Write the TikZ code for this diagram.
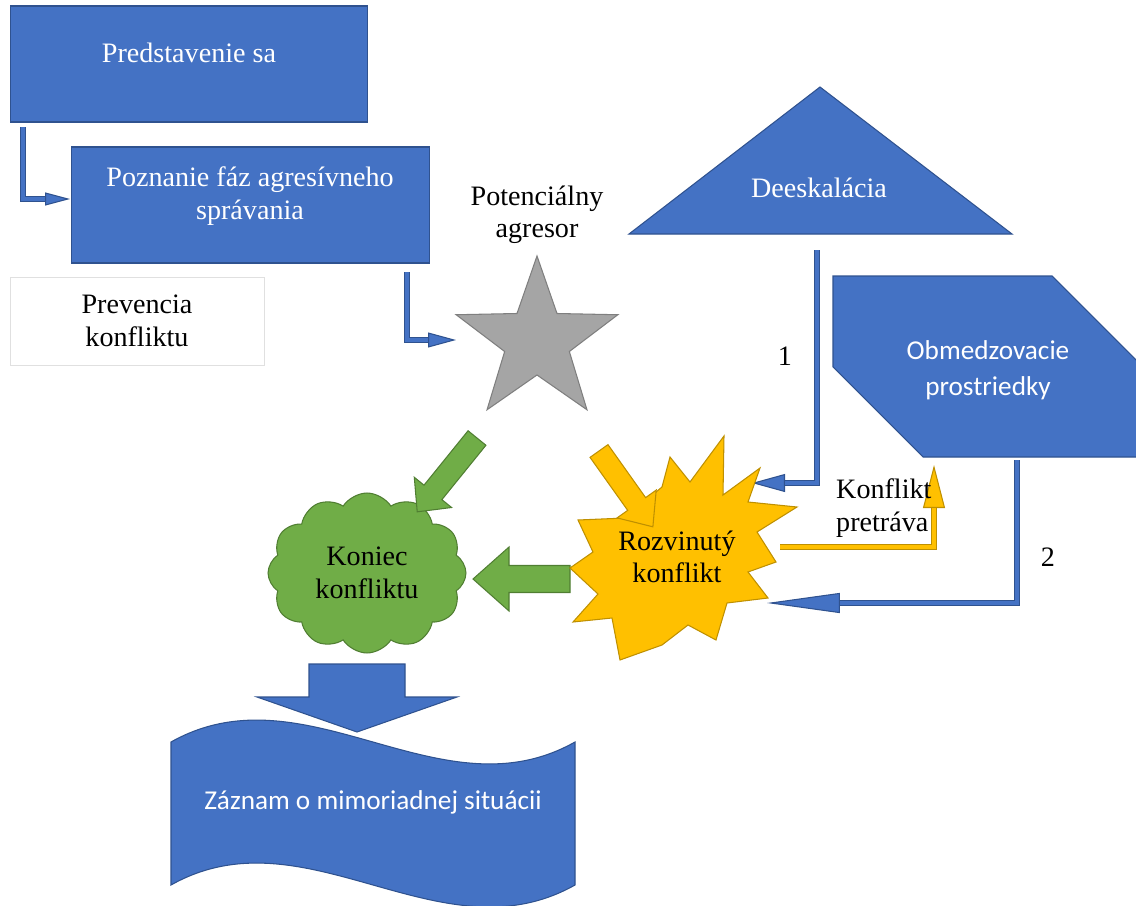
\documentclass[tikz,border=0pt]{standalone}
\usepackage{fontspec}
\setmainfont{Liberation Serif}
\newfontfamily\calibri{Carlito}
\usetikzlibrary{shapes.geometric,shapes.symbols,arrows.meta,calc}
\definecolor{bblue}{HTML}{4472C4}
\definecolor{bdark}{HTML}{2F528F}
\definecolor{ggreen}{HTML}{70AD47}
\definecolor{gdark}{HTML}{507E32}
\definecolor{yyel}{HTML}{FFC000}
\definecolor{ydark}{HTML}{BF9000}
\definecolor{sgray}{HTML}{A5A5A5}
\definecolor{sdark}{HTML}{7F7F7F}
\definecolor{lgray}{HTML}{E0E0E0}
% block arrow: style, x, y, angle, length, shaft half width, head half width, head length
\newcommand\blockarrow[8]{%
  \begin{scope}[shift={(#2,#3)},rotate=#4]
    \draw[#1] (0,-#6) -- ({#5-#8},-#6) -- ({#5-#8},-#7) -- (#5,0) -- ({#5-#8},#7) -- ({#5-#8},#6) -- (0,#6) -- cycle;
  \end{scope}}
% elbow connector: dark colour, fill colour, head length, head width, path
\newcommand\elbowarrow[5]{%
  \draw[line width=3.6pt, #1, -{Triangle[length=#3, width=#4, line width=0.6pt, fill=#2]}] #5;
  \draw[line width=2.1pt, #2, shorten >=#3] #5;}
\tikzset{
  wt/.style={text=white, align=center, font=\fontsize{16}{18.5}\selectfont},
  bt/.style={text=black, align=center, font=\fontsize{16}{18.5}\selectfont},
  wc/.style={text=white, align=center, font=\calibri\fontsize{15.5}{20.5}\selectfont},
  bluebox/.style={draw=bdark, fill=bblue, line width=0.6pt, inner sep=0pt},
  bluefill/.style={draw=bdark, fill=bblue, line width=0.6pt},
  greenfill/.style={draw=gdark, fill=ggreen, line width=0.6pt},
  yellowfill/.style={draw=ydark, fill=yyel, line width=0.6pt},
}
\begin{document}
\begin{tikzpicture}[x=0.02cm,y=-0.02cm]
\useasboundingbox (0,0) rectangle (1136,906);

% top-left boxes
\node[bluebox, minimum width=7.16cm, minimum height=2.32cm] (p1) at (189,64) {};
\node[wt] (p1t) at (189,53) {Predstavenie sa};
\node[bluebox, minimum width=7.18cm, minimum height=2.32cm] (p2) at (250.5,205) {};
\node[wt] (p2t) at (250,196) {Poznanie fáz agresívneho\\správania};
\node[draw=lgray, line width=0.5pt, minimum width=5.08cm, minimum height=1.76cm, bt] (prev) at (137,321) {Prevencia\\konfliktu};

% star
\node[star, star points=5, star point ratio=2.5, minimum size=3.4cm, inner sep=0pt,
      fill=sgray, draw=sdark, line width=0.6pt] (star) at (537,341) {};
\node[bt] (pot) at (537,215) {Potenciálny\\agresor};

% deeskalacia triangle
\filldraw[bluefill] (629,234) -- (820,87) -- (1012,234) -- cycle;
\node[wt] (deesk) at (819,188) {Deeskalácia};

% obmedzovacie prostriedky
\filldraw[bluefill] (833,276) -- (1052,276) -- (1150,374) -- (1150,457) -- (923,457) -- (833,367) -- cycle;
\node[wc] (obm) at (988,370) {Obmedzovacie\\prostriedky};

% connectors
\coordinate (cA1) at (23,127);  \coordinate (cA2) at (70,199);
\coordinate (cB1) at (407,272); \coordinate (cB2) at (456,340);
\coordinate (c11) at (817,250); \coordinate (c12) at (752,483);
\coordinate (c21) at (1017,460); \coordinate (c22) at (767,603);
\coordinate (cY1) at (780,547); \coordinate (cY2) at (934,465);
\elbowarrow{bdark}{bblue}{14.2pt}{7.4pt}{(cA1) |- (cA2)}
\elbowarrow{bdark}{bblue}{15.9pt}{8.5pt}{(cB1) |- (cB2)}
\elbowarrow{bdark}{bblue}{18.8pt}{10.2pt}{(c11) |- (c12)}
\elbowarrow{bdark}{bblue}{41.5pt}{11.4pt}{(c21) |- (c22)}
\elbowarrow{ydark}{yyel}{24.5pt}{12.5pt}{(cY1) -| (cY2)}
\node[bt] (one) at (785,356) {1};
\node[bt] (two) at (1048,557) {2};
\node[bt, align=left, anchor=west] (pret) at (830,508) {Konflikt\\pretráva};

% green arrow from explosion to cloud (behind explosion)
\blockarrow{greenfill}{570}{579}{180}{97}{13.5}{32}{36}

% explosion
\filldraw[yellowfill] (578,520) -- (625,518) -- (662,487) -- (670,457) -- (690,482) -- (724,436)
  -- (723,495) -- (760,468) -- (748,502) -- (797,507) -- (757,532) -- (776,562) -- (748,572)
  -- (768,598) -- (727,603) -- (716,640) -- (688,625) -- (662,645) -- (620,660) -- (612,618)
  -- (573,622) -- (598,594) -- (570,568) -- (593,552) -- cycle;
\blockarrow{yellowfill}{599}{451}{-54.6}{93}{11}{24}{28}
\node[bt] (rozv) at (677,557) {Rozvinutý\\konflikt};

% cloud
\node[cloud, cloud puffs=12, cloud puff arc=115, aspect=1.25, minimum width=3.96cm, minimum height=3.2cm,
      inner sep=0pt, greenfill, bt] (cloud) at (367,573) {Koniec\\konfliktu};
\blockarrow{greenfill}{477}{438}{-129}{95}{11.5}{24}{25}

% wave banner
\filldraw[bluefill] (171,742) .. controls (306,666) and (440,818) .. (575,742)
  -- (575,885) .. controls (440,961) and (306,809) .. (171,885) -- cycle;
\node[wc] (zaz) at (373,802) {Záznam o mimoriadnej situácii};
\blockarrow{bluefill}{357}{664}{-90}{68}{48}{100}{35}
\end{tikzpicture}
\end{document}
